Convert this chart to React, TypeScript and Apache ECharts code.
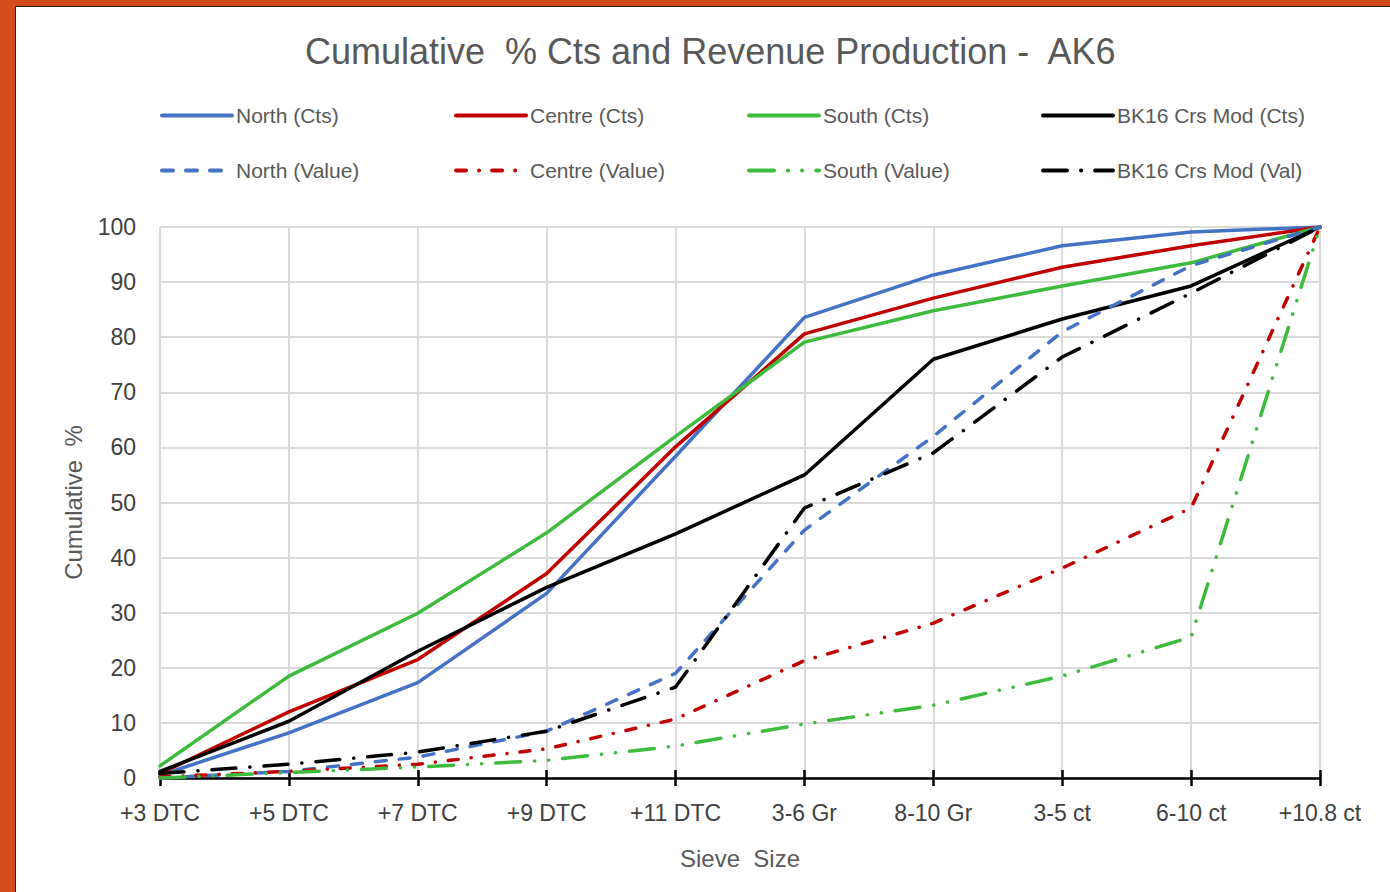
import React, { useEffect, useRef } from "react";
import * as echarts from "echarts";

const categories = ["+3 DTC", "+5 DTC", "+7 DTC", "+9 DTC", "+11 DTC", "3-6 Gr", "8-10 Gr", "3-5 ct", "6-10 ct", "+10.8 ct"];

const northCts = [0.5, 8.2, 17.3, 33.5, 58.4, 83.6, 91.3, 96.6, 99.1, 100];
const centreCts = [0.8, 12.0, 21.5, 37.1, 60.1, 80.6, 87.1, 92.7, 96.6, 100];
const southCts = [2.2, 18.5, 29.9, 44.5, 62.0, 79.1, 84.8, 89.3, 93.5, 100];
const bk16Cts = [1.2, 10.3, 23.0, 34.6, 44.3, 55.0, 76.0, 83.3, 89.3, 100];

const northVal = [0.0, 1.2, 3.8, 8.5, 19.0, 45.0, 62.0, 81.0, 93.0, 100];
const centreVal = [0.2, 1.2, 2.5, 5.3, 10.7, 21.3, 28.1, 38.1, 49.0, 100];
const southVal = [0.0, 1.0, 2.0, 3.2, 5.8, 9.8, 13.2, 18.5, 25.6, 100];
const bk16Val = [0.8, 2.5, 4.7, 8.5, 16.5, 49.0, 59.0, 76.4, 88.0, 100];

const yTicks = { min: 0, max: 100, interval: 10 };

const BLUE = "#4472C4";
const RED = "#C00000";
const GREEN = "#3DBB3D";
const BLACK = "#000000";

export default function App() {
  const ref = useRef<HTMLDivElement>(null);

  useEffect(() => {
    if (!ref.current) return;
    const chart = echarts.init(ref.current, null, { renderer: "svg" });

    const mk = (name: string, data: number[], color: string, type: any) => ({
      name,
      type: "line",
      data,
      xAxisIndex: 0,
      yAxisIndex: 0,
      symbol: "none",
      showSymbol: false,
      lineStyle: { color, width: 3.5, type, cap: "round" },
      itemStyle: { color },
      z: 3,
    });

    const series = [
      mk("North (Cts)", northCts, BLUE, "solid"),
      mk("Centre (Cts)", centreCts, RED, "solid"),
      mk("South (Cts)", southCts, GREEN, "solid"),
      mk("BK16 Crs Mod (Cts)", bk16Cts, BLACK, "solid"),
      mk("North (Value)", northVal, BLUE, [11, 13]),
      mk("Centre (Value)", centreVal, RED, [10, 13, 0.1, 13]),
      mk("South (Value)", southVal, GREEN, [25, 14, 0.1, 14, 0.1, 14]),
      mk("BK16 Crs Mod (Val)", bk16Val, BLACK, [24, 14, 0.1, 14]),
    ];

    const legendCols = [160, 454, 747, 1041];
    const legendRows = [105, 160];
    const font = "Liberation Sans, Arial";
    const legends: any[] = [];
    series.forEach((s, i) => {
      const col = i % 4;
      const row = Math.floor(i / 4);
      legends.push({
        data: [s.name],
        left: legendCols[col],
        top: legendRows[row],
        padding: 0,
        itemWidth: 70,
        itemHeight: 14,
        itemGap: 4,
        selectedMode: false,
        itemStyle: { opacity: 0 },
        lineStyle: { width: 4, cap: "round" },
        textStyle: { fontFamily: font, fontSize: 21, color: "#595959", padding: [0, 0, 0, -1] },
      });
    });

    chart.setOption({
      animation: false,
      backgroundColor: "transparent",
      title: {
        text: "Cumulative  % Cts and Revenue Production -  AK6",
        left: 300,
        top: 28,
        textStyle: { fontFamily: font, fontSize: 36, fontWeight: "normal", color: "#595959" },
      },
      legend: legends,
      grid: { left: 160, right: 70, top: 227, bottom: 114, containLabel: false },
      xAxis: [
        {
          type: "category",
          data: categories,
          boundaryGap: false,
          name: "Sieve  Size",
          nameLocation: "middle",
          nameGap: 68,
          nameTextStyle: { fontFamily: font, fontSize: 24, color: "#595959" },
          axisLine: { show: true, lineStyle: { color: "#000", width: 2.5 } },
          axisTick: { show: true, length: 8, lineStyle: { color: "#000", width: 2.5 } },
          axisLabel: { fontFamily: font, fontSize: 23, color: "#404040", margin: 23 },
          splitLine: { show: true, lineStyle: { color: "#D9D9D9", width: 2 } },
        },
        {
          type: "category",
          data: categories,
          boundaryGap: false,
          position: "bottom",
          axisLine: { show: false },
          axisTick: { show: true, inside: true, length: 8, lineStyle: { color: "#000", width: 2.5 } },
          axisLabel: { show: false },
          splitLine: { show: false },
        },
      ],
      yAxis: {
        type: "value",
        min: yTicks.min,
        max: yTicks.max,
        interval: yTicks.interval,
        name: "Cumulative  %",
        nameLocation: "middle",
        nameGap: 75,
        nameTextStyle: { fontFamily: font, fontSize: 24, color: "#595959" },
        axisLine: { show: false },
        axisTick: { show: false },
        axisLabel: { fontFamily: font, fontSize: 23, color: "#404040", margin: 24 },
        splitLine: { show: true, lineStyle: { color: "#D9D9D9", width: 2 } },
      },
      series,
    });

    return () => chart.dispose();
  }, []);

  return (
    <div style={{ position: "fixed", left: 0, top: 0, width: 1390, height: 892, background: "#D24C1C", overflow: "hidden" }}>
      <div
        style={{
          position: "absolute",
          left: 15,
          top: 6,
          right: 0,
          bottom: 0,
          background: "#FFFFFF",
          borderLeft: "1.5px solid #222",
          borderTop: "1.5px solid #222",
        }}
      />
      <div ref={ref} style={{ position: "absolute", left: 0, top: 0, width: 1390, height: 892 }} />
    </div>
  );
}
